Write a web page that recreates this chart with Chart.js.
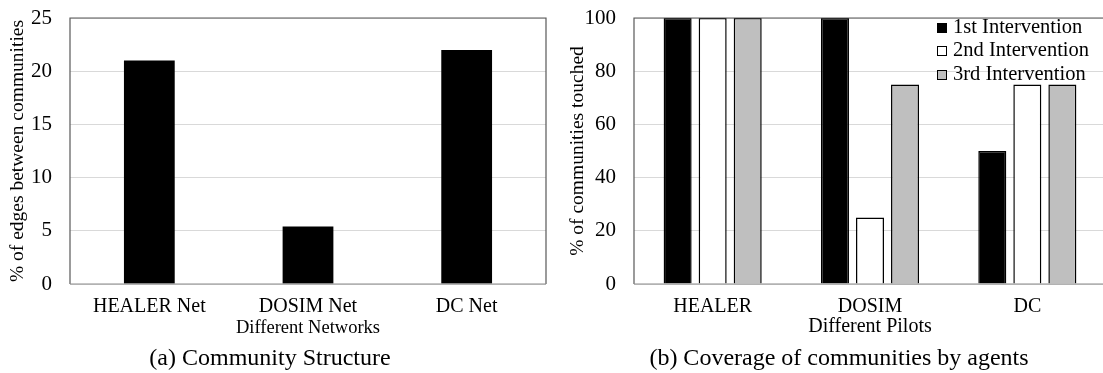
<!DOCTYPE html>
<html>
<head>
<meta charset="utf-8">
<script src="https://cdn.jsdelivr.net/npm/chart.js@4/dist/chart.umd.min.js"></script>
<style>
  body { margin: 0; background: #fff; overflow: hidden; width: 1103px; height: 373px; position: relative; font-family: "Liberation Serif", "Times New Roman", serif; }
  .box { position: absolute; top: 0; height: 373px; }
  .caption { position: absolute; top: 344px; font-size: 24px; color: #000; white-space: nowrap; transform: translateX(-50%); }
  #legend { position: absolute; left: 937px; top: 15px; font-size: 20.5px; color: #000; }
  #legend div { height: 23.3px; line-height: 23px; white-space: nowrap; }
  #legend span { display: inline-block; width: 10px; height: 10px; margin-right: 6px; box-sizing: border-box; border: 1px solid #000; vertical-align: 0px; }
</style>
</head>
<body>
<div class="box" style="left:0;width:550px"><canvas id="netChart"></canvas></div>
<div class="box" style="left:550px;width:560px"><canvas id="pilotChart"></canvas></div>
<div class="caption" style="left:270px">(a) Community Structure</div>
<div class="caption" style="left:839px">(b) Coverage of communities by agents</div>
<div id="legend"></div>
<script>
const networks = ["HEALER Net", "DOSIM Net", "DC Net"];
const edgePercent = [21, 5.4, 22];

const pilots = ["HEALER", "DOSIM", "DC"];
const interventions = ["1st Intervention", "2nd Intervention", "3rd Intervention"];
const firstIntervention = [100, 100, 50];
const secondIntervention = [100, 25, 75];
const thirdIntervention = [100, 75, 75];

const serif = "'Liberation Serif', 'Times New Roman', serif";
const fills = ["#000000", "#ffffff", "#bfbfbf"];

// frame around the plot area (dark left/top/right, lighter bottom axis)
const framePlugin = {
    id: "frame",
    afterDatasetsDraw(chart) {
        const { ctx, chartArea: a } = chart;
        ctx.save();
        ctx.lineWidth = 1.2;
        ctx.strokeStyle = "#595959";
        ctx.beginPath();
        ctx.moveTo(a.left, a.bottom);
        ctx.lineTo(a.left, a.top);
        ctx.lineTo(a.right, a.top);
        ctx.lineTo(a.right, a.bottom);
        ctx.stroke();
        ctx.strokeStyle = "#8c8c8c";
        ctx.beginPath();
        ctx.moveTo(a.left, a.bottom);
        ctx.lineTo(a.right, a.bottom);
        ctx.stroke();
        ctx.restore();
    }
};

function baseOptions(yMax, yStep, yTitle, xTitle, xTitleSize, yWidth, yTitlePad) {
    return {
        responsive: true,
        maintainAspectRatio: false,
        animation: false,
        layout: { padding: { top: 18, right: 4, bottom: 34, left: 0 } },
        plugins: { legend: { display: false }, tooltip: { enabled: false } },
        scales: {
            x: {
                grid: { display: false, drawTicks: false },
                border: { display: false },
                ticks: { color: "#000", padding: 11, font: { family: serif, size: 20 } },
                title: { display: true, text: xTitle, color: "#000", padding: 0, font: { family: serif, size: xTitleSize } },
                afterFit: s => { s.height = 55; }
            },
            y: {
                min: 0,
                max: yMax,
                grid: { color: "#d9d9d9", drawTicks: true, tickLength: 18, tickColor: "rgba(0,0,0,0)" },
                border: { display: false },
                ticks: { stepSize: yStep, color: "#000", padding: 0, font: { family: serif, size: 21 } },
                title: { display: true, text: yTitle, color: "#000", padding: { top: yTitlePad, bottom: 0 }, font: { family: serif, size: 19.5 } },
                afterFit: s => { s.width = yWidth; }
            }
        }
    };
}

new Chart(document.getElementById("netChart"), {
    type: "bar",
    data: {
        labels: networks,
        datasets: [{
            data: edgePercent,
            backgroundColor: "#000",
            borderWidth: 0,
            barPercentage: 1,
            categoryPercentage: 0.32
        }]
    },
    options: baseOptions(25, 5, "% of edges between communities", "Different Networks", 18.5, 70, 6),
    plugins: [framePlugin]
});

const pilotSeries = [firstIntervention, secondIntervention, thirdIntervention];

new Chart(document.getElementById("pilotChart"), {
    type: "bar",
    data: {
        labels: pilots,
        datasets: pilotSeries.map((vals, i) => ({
            label: interventions[i],
            data: vals,
            backgroundColor: fills[i],
            borderColor: "#000",
            borderWidth: 1.5,
            barPercentage: 0.8,
            categoryPercentage: 0.668
        }))
    },
    options: baseOptions(100, 20, "% of communities touched", "Different Pilots", 20, 84, 16),
    plugins: [framePlugin]
});

const legend = document.getElementById("legend");
interventions.forEach((name, i) => {
    const row = document.createElement("div");
    const sw = document.createElement("span");
    sw.style.background = fills[i];
    row.appendChild(sw);
    row.appendChild(document.createTextNode(name));
    legend.appendChild(row);
});
</script>
</body>
</html>
